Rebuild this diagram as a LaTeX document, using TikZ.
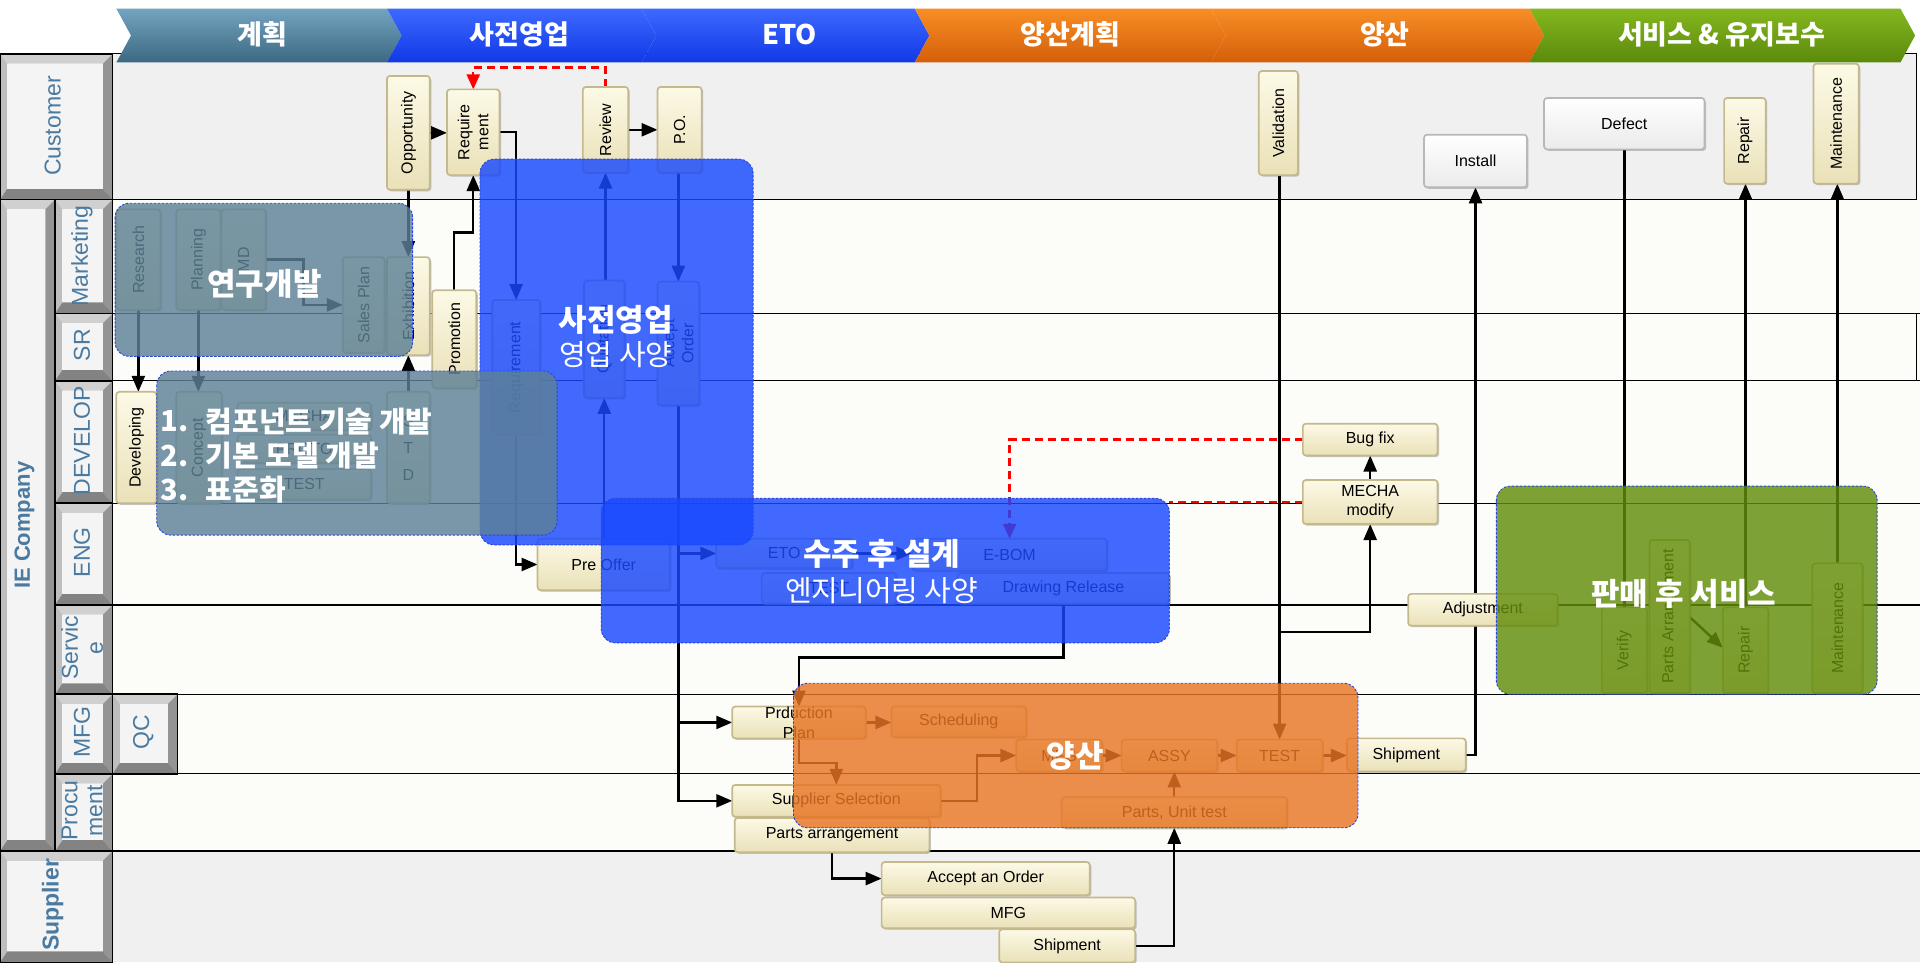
\documentclass[tikz,border=0pt]{standalone}
\usepackage{fontspec}
\setmainfont{Liberation Sans}
\newfontfamily\kr{Noto Sans CJK KR}
\usetikzlibrary{arrows.meta,calc,shadows}
\definecolor{boxtop}{HTML}{FCF9E6}
\definecolor{boxbot}{HTML}{EAE1B8}
\definecolor{boxedge}{HTML}{C4B98C}
\definecolor{wboxedge}{HTML}{B8B8B8}
\definecolor{lanecol}{HTML}{4A7AA0}
\definecolor{custbg}{HTML}{F0F0F0}
\definecolor{iebg}{HTML}{FCFCF8}
\definecolor{ovgray}{HTML}{5D8197}
\definecolor{ovblue}{HTML}{1849FF}
\definecolor{ovorange}{HTML}{E87525}
\definecolor{ovgreen}{HTML}{638D0B}
\definecolor{ovedge}{HTML}{2A45E0}
\definecolor{bvtop}{HTML}{D0D0D0}
\definecolor{bvleft}{HTML}{BEBEBE}
\definecolor{bvright}{HTML}{949494}
\definecolor{bvbot}{HTML}{838383}
\definecolor{face}{HTML}{F4F4F4}
\definecolor{c1t}{HTML}{72A4C0}
\definecolor{c1b}{HTML}{3D6882}
\definecolor{c2t}{HTML}{3D69FF}
\definecolor{c2b}{HTML}{1138E6}
\definecolor{c3t}{HTML}{F88E26}
\definecolor{c3b}{HTML}{D45E08}
\definecolor{c4t}{HTML}{84B71E}
\definecolor{c4b}{HTML}{5B8A0C}

\newcommand\bx[8]{%
  \node[#6, minimum width={(#4-#2)*1.2245pt}, minimum height={(#5-#3)*1.2245pt}] (#1) at ({(#2+#4)/2},{(#3+#5)/2}) {};
  \node[#7] (#1t) at (#1.center) {#8};}
\newcommand\lcell[4]{%
  \fill[bvtop] (#1,#2) -- (#3,#2) -- ({#3-8},{#2+8}) -- ({#1+6},{#2+8}) -- cycle;
  \fill[bvleft] (#1,#2) -- ({#1+6},{#2+8}) -- ({#1+6},{#4-9}) -- (#1,#4) -- cycle;
  \fill[bvright] (#3,#2) -- (#3,#4) -- ({#3-8},{#4-9}) -- ({#3-8},{#2+8}) -- cycle;
  \fill[bvbot] (#1,#4) -- ({#1+6},{#4-9}) -- ({#3-8},{#4-9}) -- (#3,#4) -- cycle;
  \fill[face] ({#1+6},{#2+8}) rectangle ({#3-8},{#4-9});
  \draw[line width=1.6pt] (#1,#2) rectangle (#3,#4);}
\newcommand\chev[4]{%
  \shade[top color=#3, bottom color=#4] (#1,7) -- (#2,7) -- ({#2+12},29) -- (#2,51) -- (#1,51) -- ({#1+12},29) -- cycle;}

\begin{document}
\begin{tikzpicture}[x=1.2245pt,y=-1.2245pt,
  box/.style={draw=boxedge, top color=boxtop, bottom color=boxbot, line width=1.7pt, rounded corners=3pt, inner sep=0pt, outer sep=0pt,
              drop shadow={shadow xshift=1.5pt, shadow yshift=-1.5pt, opacity=0.25}},
  wbox/.style={box, draw=wboxedge, top color=white, bottom color=white!92!black},
  htxt/.style={font=\fontsize{16}{18}\selectfont, align=center, inner sep=0pt},
  vtxt/.style={htxt, rotate=90},
  lanetxt/.style={font=\fontsize{23}{25}\selectfont, text=lanecol, rotate=90, align=center, inner sep=0pt},
  lane/.style={line width=1.2pt, draw=black},
  arr/.style={line width=2.4pt, -{Triangle[length=16pt,width=13pt]}},
  ln/.style={line width=2.4pt},
  rdash/.style={draw=red, line width=2.4pt, dash pattern=on 8pt off 5pt},
  rarr/.style={rdash, -{Triangle[length=15pt,width=13pt]}},
  ov/.style={rounded corners=14pt, draw=ovedge, line width=0.9pt, dash pattern=on 2.5pt off 1.5pt, fill opacity=0.82},
  ovt/.style={font=\kr\bfseries\fontsize{31}{34}\selectfont, text=white, inner sep=0pt},
  ovr/.style={font=\kr\fontsize{29}{32}\selectfont, text=white, inner sep=0pt},
  ovl/.style={font=\kr\bfseries\fontsize{29}{32}\selectfont, text=white, inner sep=0pt, anchor=west},
  hdr/.style={font=\kr\bfseries\fontsize{27}{30}\selectfont, text=white, inner sep=0pt}
]
\useasboundingbox (0,0) rectangle (1568,786);
\fill[white] (0,0) rectangle (1568,786);

% lane backgrounds
\fill[iebg] (92,163) rectangle (1568,695);
\fill[custbg] (92,695) rectangle (1568,786);
\draw[lane, fill=custbg] (92,44) rectangle (1565,163);
\foreach \yy in {256,311,411,494,567,632,695} \draw[lane] (92,\yy) -- (1568,\yy);
\draw[lane] (1565,256) -- (1565,311);

% lane labels
\lcell{0}{44}{92}{163}
\lcell{0}{163}{45}{695}
\lcell{45}{163}{92}{256}
\lcell{45}{256}{92}{311}
\lcell{45}{311}{92}{411}
\lcell{45}{411}{92}{494}
\lcell{45}{494}{92}{567}
\lcell{45}{567}{92}{632}
\lcell{92}{567}{145}{632}
\lcell{45}{632}{92}{695}
\lcell{0}{695}{92}{786}
\node[lanetxt] (lcust) at (43,103) {Customer};
\node[lanetxt, font=\bfseries\fontsize{22}{24}\selectfont] (lie) at (20,429) {IE Company};
\node[lanetxt] (lmkt) at (67,209) {Marketing};
\node[lanetxt] (lsr) at (67,282) {SR};
\node[lanetxt] (ldev) at (67,360) {DEVELOP};
\node[lanetxt] (leng) at (67,451) {ENG};
\node[lanetxt] (lsvc) at (67,529) {Servic\\e};
\node[lanetxt] (lmfg) at (67,598) {MFG};
\node[lanetxt] (lqc) at (117,598) {QC};
\node[lanetxt] (lproc) at (67,662) {Procu\\ment};
\node[lanetxt, font=\bfseries\fontsize{23}{25}\selectfont] (lsup) at (43,739) {Supplier};

% header chevrons
\chev{95}{316}{c1t}{c1b}
\chev{316}{524}{c2t}{c2b}
\chev{524}{747}{c2t}{c2b}
\chev{747}{989}{c3t}{c3b}
\chev{989}{1249}{c3t}{c3b}
\chev{1249}{1552}{c4t}{c4b}
\node[hdr] (h1) at (214,28) {계획};
\node[hdr] (h2) at (424,28) {사전영업};
\node[hdr] (h3) at (645,28) {ETO};
\node[hdr] (h4) at (874,28) {양산계획};
\node[hdr] (h5) at (1131,28) {양산};
\node[hdr] (h6) at (1406,28) {서비스 \& 유지보수};

% ---------- boxes ----------
\newcommand\allboxes{%
% Customer
\bx{opp}{316}{62}{351}{155}{box}{vtxt}{Opportunity}
\bx{req}{365}{73}{408}{143}{box}{vtxt, font=\fontsize{16}{19}\selectfont}{Require\\ment}
\bx{rev}{476}{71}{513}{141}{box}{vtxt}{Review}
\bx{po}{537}{71}{573}{141}{box}{vtxt}{P.O.}
\bx{val}{1028}{58}{1060}{143}{box}{vtxt}{Validation}
\bx{inst}{1163}{110}{1247}{153}{wbox}{htxt}{Install}
\bx{def}{1261}{80}{1392}{122}{wbox}{htxt}{Defect}
\bx{rep}{1408}{80}{1442}{150}{box}{vtxt}{Repair}
\bx{mnt}{1481}{52}{1518}{150}{box}{vtxt}{Maintenance}
% Marketing / SR
\bx{res}{95}{171}{131}{253}{box}{vtxt}{Research}
\bx{pln}{144}{171}{180}{253}{box}{vtxt}{Planning}
\bx{md}{181}{171}{217}{253}{box}{vtxt}{MD}
\bx{spl}{280}{210}{314}{288}{box}{vtxt}{Sales Plan}
\bx{exh}{316}{210}{351}{290}{box}{vtxt}{Exhibition}
\bx{pro}{353}{237}{389}{317}{box}{vtxt}{Promotion}
\bx{reqb}{402}{245}{441}{355}{box}{vtxt}{Requirement}
\bx{quo}{477}{229}{510}{325}{box}{vtxt}{Quotation}
\bx{acc}{537}{230}{571}{331}{box}{vtxt, font=\fontsize{16}{19}\selectfont}{Accept\\Order}
% DEVELOP
\bx{dev}{95}{320}{128}{411}{box}{vtxt}{Developing}
\bx{con}{144}{320}{181}{411}{box}{vtxt}{Concept}
\bx{mech}{194}{329}{303}{351}{box}{htxt}{MECHA}
\bx{prot}{194}{355}{303}{378}{box}{htxt}{PROTO}
\bx{tst}{194}{383}{303}{408}{box}{htxt}{TEST}
\bx{std}{316}{320}{351}{411}{box}{htxt, font=\fontsize{16}{27}\selectfont}{S\\T\\D}
\bx{bug}{1064}{346}{1174}{372}{box}{htxt}{Bug fix}
\bx{mod}{1064}{392}{1174}{428}{box}{htxt, font=\fontsize{16}{19}\selectfont}{MECHA\\modify}
% ENG
\bx{pre}{439}{440}{547}{482}{box}{htxt}{Pre Offer}
\bx{eto}{585}{440}{696}{464}{box}{htxt}{ETO}
\bx{ebom}{745}{440}{904}{466}{box}{htxt}{E-BOM}
\bx{etst}{622}{468}{732}{493}{box}{htxt}{TEST}
\bx{drw}{782}{468}{955}{493}{box}{htxt}{Drawing Release}
% Service
\bx{adj}{1150}{485}{1272}{511}{box}{htxt}{Adjustment}
\bx{ver}{1308}{496}{1345}{566}{box}{vtxt}{Verify}
\bx{parr}{1347}{441}{1380}{566}{box}{vtxt}{Parts Arrangement}
\bx{repb}{1407}{496}{1444}{566}{box}{vtxt}{Repair}
\bx{mntb}{1480}{460}{1521}{566}{box}{vtxt}{Maintenance}
% MFG
\bx{pp}{598}{577}{707}{603}{box}{htxt, font=\fontsize{16}{20}\selectfont}{Prduction\\Plan}
\bx{sch}{728}{577}{838}{602}{box}{htxt}{Scheduling}
\bx{mfg}{830}{604}{900}{630}{box}{htxt}{MFG}
\bx{assy}{916}{604}{994}{630}{box}{htxt}{ASSY}
\bx{test}{1010}{604}{1080}{630}{box}{htxt}{TEST}
\bx{ship}{1100}{603}{1197}{630}{box}{htxt}{Shipment}
% Procurement
\bx{ss}{598}{641}{768}{667}{box}{htxt}{Supplier Selection}
\bx{pa}{600}{668}{759}{696}{box}{htxt}{Parts arrangement}
\bx{put}{867}{651}{1051}{676}{box}{htxt}{Parts, Unit test}
% Supplier
\bx{aao}{720}{704}{890}{731}{box}{htxt}{Accept an Order}
\bx{smfg}{720}{733}{927}{758}{box}{htxt}{MFG}
\bx{sship}{816}{759}{927}{786}{box}{htxt}{Shipment}
}
\begin{scope}[opacity=0]
\allboxes
\end{scope}

% ---------- connectors ----------
\draw[arr] (opp.east) -- (opp.east -| req.west);
\draw[arr] (rev.east) -- (rev.east -| po.west);
\draw[rarr] (rev.north) -- (rev.north |- 0,55) -| (req.north);
\draw[arr] (req.east) -| (reqb.north);
\draw[arr] (reqb.south) |- (pre.west);
\draw[arr] (quo.south |- pre.north) -- (quo.south);
\draw[arr] (rev.south |- quo.north) -- (rev.south);
\draw[arr] (acc.north |- po.south) -- (acc.north);
\draw[arr] (acc.south) |- (ss.west);
\draw[arr] (acc.south |- eto.west) -- (eto.west);
\draw[arr] (acc.south |- pp.west) -- (pp.west);
\draw[arr] (eto.east) -- (eto.east -| ebom.west);
\draw[arr] (drw.south) -- (drw.south |- 0,537) -| (pp.north);
\draw[arr] (pp.east) -- (pp.east -| sch.west);
\draw[arr] (pp.south) -- (pp.south |- 0,623) -| (ss.north);
\draw[arr] (ss.east) -- ++(30,0) |- (mfg.west);
\draw[arr] (mfg.east) -- (mfg.east -| assy.west);
\draw[arr] (assy.east) -- (assy.east -| test.west);
\draw[arr] (test.east) -- (test.east -| ship.west);
\draw[arr] (test.north |- val.south) -- (test.north);
\draw[arr] (test.north |- 0,516) -| (mod.south);
\draw[arr] (mod.north) -- (bug.south);
\draw[rarr] (bug.west) -| (ebom.north);
\coordinate (modend) at (955,410);
\draw[rdash] (mod.west) -- (modend);
\draw[arr] (ship.east) -| (inst.south);
\draw[ln] (def.south) -- (def.south |- ver.north);
\draw[arr] (repb.north) -- (repb.north |- rep.south);
\draw[arr] (mntb.north) -- (mntb.north |- mnt.south);
\draw[arr] (parr.east |- 0,504) -- (repb.west |- 0,529);
\draw[arr] (opp.south) -- (opp.south |- exh.north);
\draw[arr] (pro.north) -- (pro.north |- 0,190) -| (req.south);
\draw[arr] (std.north) -- (std.north |- exh.south);
\draw[arr] (res.south) -- (res.south |- dev.north);
\draw[arr] (pln.south) -- (pln.south |- con.north);
\draw[arr] (md.east) -- ++(31,0) |- (spl.west);
\draw[arr] (pa.south) |- (aao.west);
\draw[arr] (sship.east) -| (put.south);
\draw[arr] (put.north) -- (put.north |- assy.south);

% ---------- visible boxes ----------
\allboxes

% ---------- overlays ----------
\draw[ov, fill=ovblue] (392,130) rectangle (615,445);
\draw[ov, fill=ovblue] (491,407) rectangle (955,525);
\draw[ov, fill=ovgray] (94,166) rectangle (337,291);
\draw[ov, fill=ovgray] (128,303) rectangle (455,437);
\draw[ov, fill=ovorange] (648,558) rectangle (1109,676);
\draw[ov, fill=ovgreen] (1222,397) rectangle (1533,567);

\node[ovt] (t1) at (216,232) {연구개발};
\node[ovl] (t2a) at (131,344) {1.};
\node[ovl] (t2b) at (168,344) {컴포넌트 기술 개발};
\node[ovl] (t3a) at (131,372) {2.};
\node[ovl] (t3b) at (168,372) {기본 모델 개발};
\node[ovl] (t4a) at (131,400) {3.};
\node[ovl] (t4b) at (168,400) {표준화};
\node[ovt] (t5) at (503,261) {사전영업};
\node[ovr] (t6) at (503,290) {영업 사양};
\node[ovt] (t7) at (720,452) {수주 후 설계};
\node[ovr] (t8) at (720,482) {엔지니어링 사양};
\node[ovt] (t9) at (878,617) {양산};
\node[ovt] (t10) at (1375,485) {판매 후 서비스};
\end{tikzpicture}
\end{document}
